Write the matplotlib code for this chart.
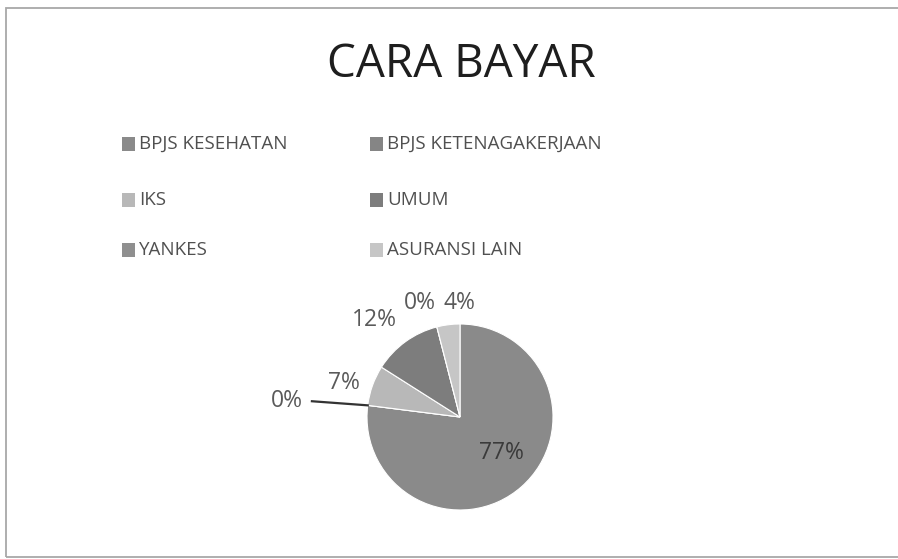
import numpy as np
import matplotlib
matplotlib.use('Agg')
import matplotlib.pyplot as plt
from matplotlib.patches import Rectangle

# data
categories = ['BPJS KESEHATAN', 'BPJS KETENAGAKERJAAN', 'IKS', 'UMUM', 'YANKES', 'ASURANSI LAIN']
values = [77, 0, 7, 12, 0, 4]
colors = ['#8a8a8a', '#858585', '#b8b8b8', '#7d7d7d', '#8f8f8f', '#c6c6c6']

# label placement (radius factor, angle shift from wedge middle in deg)
label_r = [0.59, 1.87, 1.30, 1.39, 1.30, 1.23]
label_shift = [7, 2, 3.4, 5.6, 5, -7]

W, H = 898, 559
fig = plt.figure(figsize=(W / 100, H / 100), dpi=100)
fig.patch.set_facecolor('white')

# chart frame
fig.patches.append(Rectangle((6 / W, (H - 557) / H), 1.2, (557 - 8) / H,
                             transform=fig.transFigure, fill=False,
                             edgecolor='#a8a8a8', lw=1.3))

fig.text(461 / W, 1 - 65 / H, 'CARA BAYAR', ha='center', va='center',
         fontsize=33, color='#1e1e1e', family='Open Sans', fontweight='medium')

# pie
cx, cy, r = 460, 417, 93
ax = fig.add_axes([(cx - r) / W, (H - cy - r) / H, 2 * r / W, 2 * r / H])
wedges, _ = ax.pie(values, colors=colors, startangle=90, counterclock=False,
                   radius=1, wedgeprops=dict(edgecolor='white', linewidth=0.8))
ax.set_xlim(-1, 1)
ax.set_ylim(-1, 1)
ax.set_aspect('equal')
ax.axis('off')

for i, w in enumerate(wedges):
    mid = (w.theta1 + w.theta2) / 2 + label_shift[i]
    tx = label_r[i] * np.cos(np.radians(mid))
    ty = label_r[i] * np.sin(np.radians(mid))
    col = '#3a3a3a' if i == 0 else '#5a5a5a'
    ax.text(tx, ty, f'{values[i]}%', ha='center', va='center', fontsize=16.5,
            color=col, family='Open Sans', clip_on=False)
    if i == 1:
        ex = np.cos(np.radians(w.theta1))
        ey = np.sin(np.radians(w.theta1))
        ax.plot([tx + 0.27, ex], [ty + 0.0, ey], color='#333333', lw=1.6,
                clip_on=False)

# legend (two columns, three rows)
col_x = [122, 370]
row_y = [144, 200, 250]
for i, name in enumerate(categories):
    x = col_x[i % 2]
    y = row_y[i // 2]
    fig.patches.append(Rectangle((x / W, (H - y - 6.5) / H), 13 / W, 13 / H,
                                 transform=fig.transFigure, facecolor=colors[i],
                                 edgecolor='none'))
    fig.text((x + 17) / W, 1 - y / H, name, ha='left', va='center',
             fontsize=13.5, color='#505050', family='Open Sans')

fig.savefig('out.png', dpi=100)
